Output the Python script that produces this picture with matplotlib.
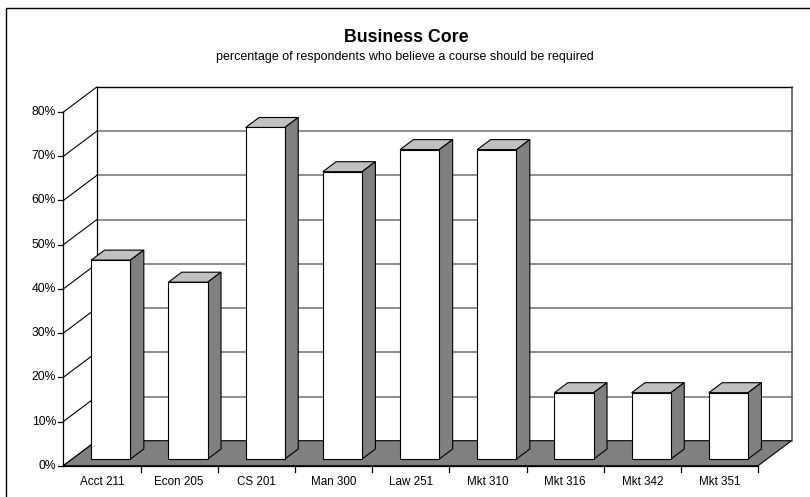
import matplotlib
matplotlib.use("Agg")
import matplotlib.pyplot as plt
from matplotlib.patches import Polygon
from matplotlib.lines import Line2D

plt.rcParams['font.family'] = ['Liberation Sans', 'DejaVu Sans']

# ---- data ----
courses = ["Acct 211", "Econ 205", "CS 201", "Man 300", "Law 251",
           "Mkt 310", "Mkt 316", "Mkt 342", "Mkt 351"]
required_pct = [45, 40, 75, 65, 70, 70, 15, 15, 15]
y_ticks = [0, 10, 20, 30, 40, 50, 60, 70, 80]
y_labels = ["0%", "10%", "20%", "30%", "40%", "50%", "60%", "70%", "80%"]
title = "Business Core"
subtitle = "percentage of respondents who believe a course should be required"

# ---- 3D-look geometry (in data units) ----
DX, DY = 0.4326, 5.656      # full depth offset (category units, percent units)
D0, D1 = 0.268, 0.668       # bar front / back depth fraction
BW = 0.508                  # bar width in category units
YMAX = 80
n = len(courses)

fig = plt.figure(figsize=(8.1, 4.97), dpi=100)
ax = fig.add_axes([0, 0, 1, 1])
ax.set_xlim(-0.820, 9.672)
ax.set_ylim(-7.08, 105.36)
ax.axis('off')

def P(c, v, d):
    return (c + d * DX, v + d * DY)

# back wall
ax.add_patch(Polygon([P(0, 0, 1), P(n, 0, 1), P(n, YMAX, 1), P(0, YMAX, 1)],
                     closed=True, facecolor='white', edgecolor='none', zorder=1))
for v in y_ticks[1:-1]:
    x0, y0 = P(0, v, 1)
    x1, y1 = P(n, v, 1)
    ax.plot([x0, x1], [y0, y1], color='#707070', lw=1.1, zorder=2)
# top edge and right edge of back wall
x0, y0 = P(0, YMAX, 1); x1, y1 = P(n, YMAX, 1)
ax.plot([x0, x1], [y0, y1], color='black', lw=1.0, zorder=2)
xb, yb = P(n, 0, 1)
ax.plot([x1, xb], [y1, yb], color='#505050', lw=1.1, zorder=2)
# left wall back edge
xa, ya = P(0, 0, 1)
ax.plot([x0, xa], [y0, ya], color='black', lw=0.9, zorder=2)
# left wall diagonals
for v in y_ticks:
    xf, yf = P(0, v, 0)
    xk, yk = P(0, v, 1)
    ax.plot([xf, xk], [yf, yk], color='black', lw=0.8, zorder=2)

# floor
ax.add_patch(Polygon([P(0, 0, 0), P(n, 0, 0), P(n, 0, 1), P(0, 0, 1)],
                     closed=True, facecolor='#808080', edgecolor='black',
                     lw=0.8, zorder=3))

# bars
centers = [i + 0.5 for i in range(n)]
for c, v in zip(centers, required_pct):
    xl, xr = c - BW / 2, c + BW / 2
    top = Polygon([P(xl, v, D0), P(xr, v, D0), P(xr, v, D1), P(xl, v, D1)],
                  closed=True, facecolor='#C0C0C0', edgecolor='black', lw=0.8, zorder=4)
    side = Polygon([P(xr, 0, D0), P(xr, v, D0), P(xr, v, D1), P(xr, 0, D1)],
                   closed=True, facecolor='#808080', edgecolor='black', lw=0.8, zorder=4)
    ax.add_patch(top)
    ax.add_patch(side)
ax.bar([c + D0 * DX for c in centers], required_pct, width=BW,
       bottom=D0 * DY, color='white', edgecolor='black', lw=0.8, zorder=5)

# front axes
ax.plot([0, 0], [0, YMAX], color='black', lw=0.9, zorder=6)
ax.plot([0, n], [0, 0], color='black', lw=0.9, zorder=6)
for v, lab in zip(y_ticks, y_labels):
    ax.plot([-0.065, 0], [v, v], color='black', lw=0.9, zorder=6)
    ax.text(-0.095, v, lab, ha='right', va='center', fontsize=8.7, zorder=6)
for i in range(1, n + 1):
    ax.plot([i, i], [0, -1.36], color='black', lw=0.9, zorder=6)
for c, lab in zip(centers, courses):
    ax.text(c, -3.62, lab, ha='center', va='center', fontsize=8.4, zorder=6)

# titles
fig.text(406 / 810, 1 - 38 / 497, title, ha='center', va='center',
         fontsize=12.8, fontweight='bold')
fig.text(405 / 810, 1 - 57 / 497, subtitle, ha='center', va='center',
         fontsize=9.0)

# outer chart border (top and left visible)
fig.add_artist(Line2D([6 / 810, 6 / 810, 1.0], [0.0, 1 - 8 / 497, 1 - 8 / 497],
                      transform=fig.transFigure, color='black', lw=1.0))

fig.savefig("out.png", dpi=100)
